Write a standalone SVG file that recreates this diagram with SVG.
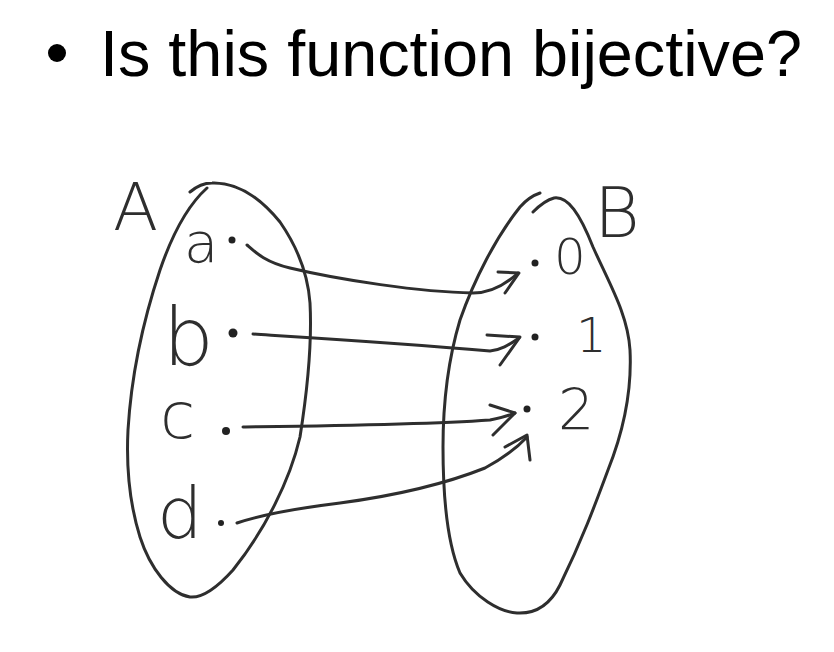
<svg xmlns="http://www.w3.org/2000/svg" width="834" height="652" viewBox="0 0 834 652">
<style>
.ink{fill:none;stroke:#2e2e2e;stroke-width:3;stroke-linecap:round;stroke-linejoin:round}
.dot{fill:#222}
.hand{font-family:"DejaVu Sans","Liberation Sans",sans-serif;font-weight:200;fill:#2e2e2e}
.title{font-family:"Liberation Sans",Arial,sans-serif;font-size:64px;fill:#000}
</style>
<rect width="834" height="652" fill="#fff"/>
<g id="title">
<circle cx="57" cy="53" r="9" fill="#000"/>
<text class="title" x="100" y="76" textLength="702" lengthAdjust="spacingAndGlyphs">Is this function bijective?</text>
</g>
<g id="setA">
<path class="ink" d="M190,192 C197,186 204,183 212,183 C240,182 262,200 280,222 C298,248 308,275 310,303 C312,340 309,380 300,437 C290,480 265,530 233,570 C215,590 200,598 190,597 C170,594 150,568 140,537 C130,505 126,470 128,430 C131,380 140,330 160,270 C172,235 188,205 207,188"/>
<text class="hand" x="113" y="230" font-size="66">A</text>
</g>
<g id="setB">
<path class="ink" d="M533,212 C540,205 546,200 554,198 C568,196 580,214 593,247 C610,285 628,315 630,350 C632,390 624,430 608,470 C595,505 582,540 560,585 C550,605 535,614 517,613 C500,612 475,598 460,573 C448,545 443,500 443,447 C443,405 448,360 460,320 C474,280 496,237 520,207 C527,199 534,195 540,193"/>
<text class="hand" x="594" y="237" font-size="70">B</text>
</g>
<g id="a">
<text class="hand" x="184" y="262" font-size="56">a</text>
<circle class="dot" cx="232" cy="240" r="3.5"/>
</g>
<g id="b">
<text class="hand" x="163" y="365" font-size="80">b</text>
<circle class="dot" cx="233" cy="333" r="4.5"/>
</g>
<g id="c">
<text class="hand" x="160" y="438" font-size="64">c</text>
<circle class="dot" cx="226" cy="431" r="4"/>
</g>
<g id="d">
<text class="hand" x="157" y="538" font-size="72">d</text>
<circle class="dot" cx="221" cy="523" r="3"/>
</g>
<g id="n0">
<circle class="dot" cx="535" cy="263" r="3.5"/>
<text class="hand" x="554" y="274" font-size="50">0</text>
</g>
<g id="n1">
<circle class="dot" cx="535" cy="337" r="3.5"/>
<text class="hand" x="576" y="352" font-size="48">1</text>
</g>
<g id="n2">
<circle class="dot" cx="527" cy="409" r="3.5"/>
<text class="hand" x="558" y="430" font-size="57">2</text>
</g>
<g id="connectors">
<path class="ink" d="M247,245 C255,252 265,262 290,268 C340,280 420,292 473,293 C490,293 505,285 518,273"/>
<path class="ink" d="M498,272 L519,273 L505,293"/>
<path class="ink" d="M253,334 C300,337 400,343 490,351 C502,350 510,344 519,338"/>
<path class="ink" d="M487,335 L520,337 L500,365"/>
<path class="ink" d="M243,427 C320,426 420,425 490,420 C500,418 508,416 515,413"/>
<path class="ink" d="M490,405 L515,413 L493,435"/>
<path class="ink" d="M237,523 C260,515 300,508 340,503 C400,495 450,482 485,468 C500,460 515,450 527,437"/>
<path class="ink" d="M505,447 L527,435 L530,460"/>
</g>
</svg>
